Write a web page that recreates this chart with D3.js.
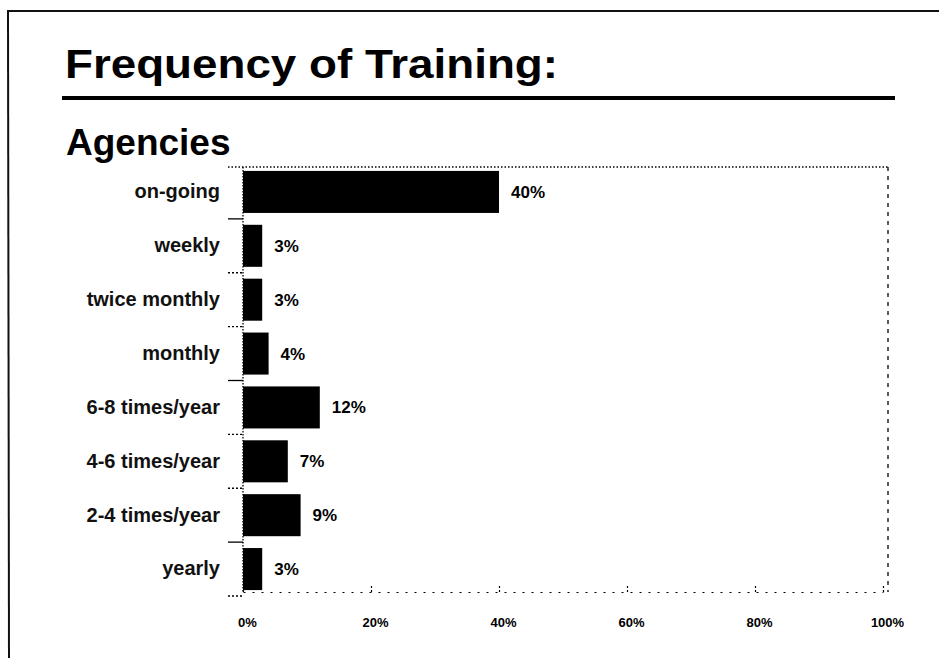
<!DOCTYPE html>
<html>
<head>
<meta charset="utf-8">
<script src="https://cdn.jsdelivr.net/npm/d3@7"></script>
<style>
  html, body { margin: 0; padding: 0; background: #fff; }
  svg { display: block; font-family: "Liberation Sans", Arial, Helvetica, sans-serif; }
</style>
</head>
<body>
<svg id="chart"></svg>
<script>
// Data
const categories = ['on-going', 'weekly', 'twice monthly', 'monthly', '6-8 times/year', '4-6 times/year', '2-4 times/year', 'yearly'];
const values = [40, 3, 3, 4, 12, 7, 9, 3];
const tickValues = [0, 20, 40, 60, 80, 100];
const titleText = 'Frequency of Training:';
const subtitleText = 'Agencies';

const width = 939;
const height = 658;

const svg = d3.select('#chart')
    .attr('width', width)
    .attr('height', height);

svg.append('rect')
    .attr('width', width)
    .attr('height', height)
    .attr('fill', '#fff');

// Page frame (top + left edges of the scanned page)
svg.append('line')
    .attr('x1', 7).attr('x2', width)
    .attr('y1', 11).attr('y2', 11)
    .attr('stroke', '#111').attr('stroke-width', 2);
svg.append('line')
    .attr('x1', 8).attr('x2', 9)
    .attr('y1', 11).attr('y2', height)
    .attr('stroke', '#111').attr('stroke-width', 2);

// Title + rule
svg.append('text')
    .attr('x', 65)
    .attr('y', 78)
    .attr('font-size', 40)
    .attr('font-weight', 'bold')
    .attr('textLength', 493)
    .attr('lengthAdjust', 'spacingAndGlyphs')
    .text(titleText);

svg.append('line')
    .attr('x1', 62).attr('x2', 895)
    .attr('y1', 98).attr('y2', 98)
    .attr('stroke', '#000').attr('stroke-width', 4);

svg.append('text')
    .attr('x', 66)
    .attr('y', 155)
    .attr('font-size', 37)
    .attr('font-weight', 'bold')
    .text(subtitleText);

// Scales
const x = d3.scaleLinear()
    .domain([0, 100])
    .range([243, 883]);

const y = d3.scaleBand()
    .domain(categories)
    .range([165, 596])
    .paddingInner(0.22)
    .paddingOuter(0.11);

const plotTop = 167;
const plotBottom = 592;
const plotRight = 888;

// Frame of the plot area (dotted like the original)
svg.append('line')
    .attr('x1', 228).attr('x2', plotRight)
    .attr('y1', plotTop).attr('y2', plotTop)
    .attr('stroke', '#000').attr('stroke-width', 1.3)
    .attr('stroke-dasharray', '1.5,2');

svg.append('line')
    .attr('x1', plotRight).attr('x2', plotRight)
    .attr('y1', plotTop).attr('y2', plotBottom)
    .attr('stroke', '#000').attr('stroke-width', 1.3)
    .attr('stroke-dasharray', '4,5');

svg.append('line')
    .attr('x1', x(0)).attr('x2', x(0))
    .attr('y1', plotTop).attr('y2', plotBottom)
    .attr('stroke', '#000').attr('stroke-width', 1.3)
    .attr('stroke-dasharray', '1.5,1.5');

// Bottom axis
const xAxis = d3.axisBottom(x)
    .tickValues(tickValues)
    .tickSize(0)
    .tickPadding(26)
    .tickFormat(d => `${d}%`);

const gx = svg.append('g')
    .attr('transform', `translate(0,${plotBottom})`)
    .call(xAxis);

gx.select('.domain')
    .attr('stroke', '#000')
    .attr('stroke-width', 1.2)
    .attr('stroke-dasharray', '2,7');

gx.selectAll('.tick text')
    .attr('font-size', 13)
    .attr('font-weight', 'bold')
    .attr('font-family', '"Liberation Sans", Arial, sans-serif')
    .attr('dx', 4)
    .attr('fill', '#000');

// small tick stubs rising from the bottom axis
gx.selectAll('.tick')
    .append('line')
    .attr('y1', 0).attr('y2', -7)
    .attr('stroke', '#000')
    .attr('stroke-width', 1.2)
    .attr('stroke-dasharray', '2,2');

// Left axis: category labels and boundary stubs
const yAxis = d3.axisLeft(y)
    .tickSize(0)
    .tickPadding(23);

const gy = svg.append('g')
    .attr('transform', `translate(${x(0)},0)`)
    .call(yAxis);

gy.select('.domain').remove();

gy.selectAll('.tick text')
    .attr('font-size', 20)
    .attr('font-weight', 'bold')
    .attr('font-family', '"Liberation Sans", Arial, sans-serif')
    .attr('fill', '#111');

// stubs between categories
const boundaries = categories.slice(1).map(c => y(c) - y.step() * y.paddingInner() / 2);
boundaries.push(y(categories[categories.length - 1]) + y.bandwidth() + y.step() * y.paddingInner() / 2);

svg.selectAll('.stub')
    .data(boundaries)
    .join('line')
    .attr('class', 'stub')
    .attr('x1', x(0) - 15).attr('x2', x(0))
    .attr('y1', d => d).attr('y2', d => d)
    .attr('stroke', '#000')
    .attr('stroke-width', 1.3)
    .attr('stroke-dasharray', (d, i) => i % 3 === 0 ? null : '2,2');

// Bars
svg.selectAll('.bar')
    .data(values)
    .join('rect')
    .attr('class', 'bar')
    .attr('x', x(0))
    .attr('y', (d, i) => y(categories[i]))
    .attr('width', d => x(d) - x(0))
    .attr('height', y.bandwidth())
    .attr('fill', '#000');

// Value labels
svg.selectAll('.value')
    .data(values)
    .join('text')
    .attr('class', 'value')
    .attr('x', d => x(d) + 12)
    .attr('y', (d, i) => y(categories[i]) + y.bandwidth() / 2)
    .attr('dy', '0.35em')
    .attr('font-size', 17)
    .attr('font-weight', 'bold')
    .attr('fill', '#000')
    .text(d => `${d}%`);
</script>
</body>
</html>
